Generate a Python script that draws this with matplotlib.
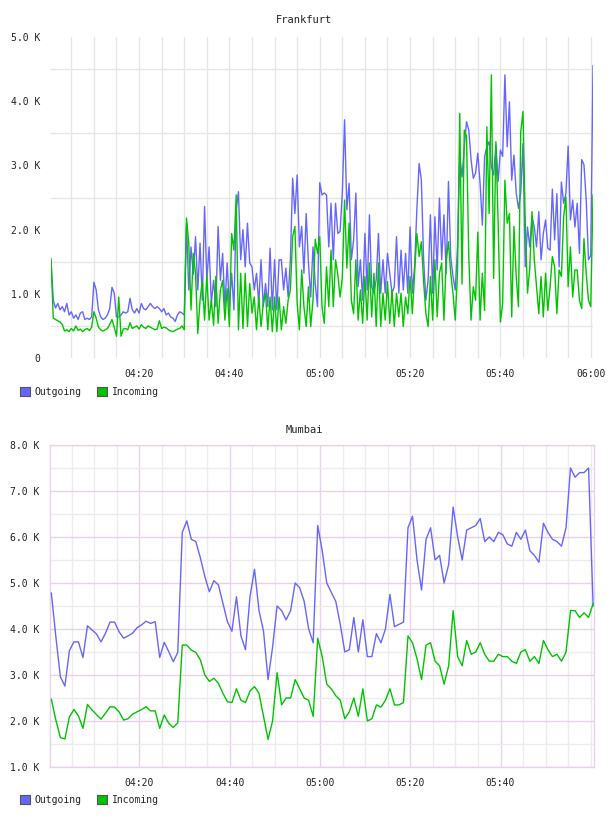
import matplotlib
matplotlib.use("Agg")
import matplotlib.pyplot as plt
from matplotlib.patches import Patch
from matplotlib.ticker import FixedLocator
import numpy as np

plt.rcParams['font.family'] = ['DejaVu Sans Mono', 'DejaVu Sans']
plt.rcParams['font.size'] = 7

# ---------------- data (values in K) ----------------
start_min = 0.5          # first sample: minutes after 04:00
frankfurt_step = 0.5     # minutes between samples
mumbai_step = 1.0

frankfurt_outgoing = [
    1.54, 0.90, 0.78, 0.85, 0.75, 0.80, 0.72, 0.85, 0.67, 0.72,
    0.62, 0.67, 0.60, 0.70, 0.72, 0.60, 0.62, 0.60, 0.64, 1.18,
    1.06, 0.75, 0.64, 0.60, 0.62, 0.67, 0.77, 1.10, 1.01, 0.64,
    0.64, 0.67, 0.72, 0.70, 0.72, 0.93, 0.75, 0.70, 0.77, 0.70,
    0.85, 0.77, 0.75, 0.80, 0.85, 0.80, 0.77, 0.80, 0.77, 0.72,
    0.77, 0.67, 0.70, 0.64, 0.62, 0.57, 0.67, 0.72, 0.70, 0.67,
    2.10, 1.06, 1.73, 1.30, 1.89, 1.06, 1.79, 0.90, 2.36, 1.21,
    1.73, 0.85, 1.21, 0.80, 2.05, 1.21, 1.63, 0.80, 1.48, 0.80,
    1.32, 0.75, 2.30, 2.59, 1.53, 2.00, 1.42, 2.10, 1.48, 1.42,
    1.06, 1.32, 0.85, 1.53, 0.80, 1.16, 0.80, 1.71, 0.75, 1.53,
    0.75, 1.53, 1.53, 1.06, 1.40, 0.95, 1.53, 2.80, 2.25, 2.85,
    1.73, 2.05, 1.32, 2.25, 1.48, 0.95, 1.73, 1.16, 0.80, 2.73,
    2.54, 2.57, 2.54, 1.73, 2.41, 1.53, 2.41, 1.94, 1.97, 2.57,
    3.71, 2.31, 2.72, 1.53, 1.84, 2.57, 1.11, 1.53, 0.90, 1.94,
    1.06, 2.23, 1.11, 1.01, 1.22, 1.94, 1.01, 1.53, 1.01, 1.63,
    1.32, 1.01, 1.11, 1.89, 1.01, 1.68, 1.06, 1.63, 1.01, 2.04,
    1.01, 1.42, 2.31, 3.03, 2.77, 1.53, 0.90, 1.22, 2.23, 1.01,
    2.20, 1.37, 2.49, 1.53, 2.23, 1.32, 2.75, 1.58, 1.27, 1.06,
    1.73, 3.15, 2.82, 3.29, 3.68, 3.55, 3.09, 2.80, 2.88, 3.19,
    2.72, 2.07, 3.14, 3.29, 3.37, 2.98, 2.85, 3.32, 2.75, 3.24,
    3.14, 4.41, 3.29, 3.99, 2.77, 3.16, 2.57, 2.33, 2.57, 3.34,
    1.42, 2.04, 1.73, 2.20, 2.04, 1.73, 2.28, 1.53, 1.94, 2.15,
    1.71, 1.68, 2.63, 1.84, 2.56, 1.42, 2.74, 2.41, 2.56, 3.30,
    2.15, 2.46, 2.04, 2.41, 1.63, 3.09, 3.01, 2.46, 1.53, 1.60,
    4.55,
]

frankfurt_incoming = [
    1.54, 0.62, 0.60, 0.58, 0.56, 0.52, 0.42, 0.44, 0.41, 0.46,
    0.42, 0.50, 0.43, 0.45, 0.41, 0.44, 0.46, 0.43, 0.48, 0.72,
    0.62, 0.48, 0.44, 0.42, 0.44, 0.46, 0.52, 0.60, 0.48, 0.34,
    0.95, 0.34, 0.45, 0.46, 0.44, 0.55, 0.46, 0.48, 0.50, 0.45,
    0.52, 0.48, 0.46, 0.50, 0.48, 0.46, 0.44, 0.45, 0.58, 0.46,
    0.48, 0.47, 0.44, 0.42, 0.41, 0.43, 0.45, 0.46, 0.50, 0.44,
    2.18, 1.79, 0.75, 1.63, 1.32, 0.38, 0.90, 1.21, 0.59, 1.29,
    0.59, 0.90, 0.51, 1.27, 0.54, 1.06, 1.21, 0.59, 1.08, 0.49,
    1.94, 1.68, 2.54, 0.44, 1.32, 0.46, 1.32, 0.49, 1.16, 0.70,
    0.95, 0.44, 0.95, 0.49, 0.85, 1.01, 0.44, 0.95, 0.41, 0.95,
    0.41, 0.95, 0.44, 0.80, 0.54, 0.90, 1.06, 1.89, 2.05, 0.85,
    0.44, 1.37, 0.80, 0.49, 1.11, 0.49, 0.90, 1.85, 1.63, 1.89,
    0.80, 0.54, 1.42, 0.80, 1.68, 0.80, 1.53, 1.30, 0.95, 1.25,
    2.46, 1.40, 2.10, 0.90, 0.69, 1.53, 0.59, 1.06, 0.54, 1.27,
    0.59, 1.48, 0.64, 1.32, 0.49, 1.48, 0.49, 1.01, 0.59, 1.19,
    0.54, 1.06, 0.49, 1.01, 0.64, 1.01, 0.49, 0.95, 0.69, 1.27,
    0.69, 1.32, 1.94, 1.58, 1.81, 1.19, 0.69, 0.49, 1.27, 0.59,
    1.53, 0.64, 1.32, 1.48, 0.59, 1.53, 1.81, 1.32, 1.01, 0.59,
    1.32, 3.81, 1.15, 3.55, 3.45, 1.58, 0.59, 1.11, 0.90, 1.96,
    0.59, 1.32, 0.74, 3.60, 2.25, 4.41, 1.24, 3.37, 2.10, 0.56,
    0.85, 2.77, 2.10, 2.25, 0.64, 2.05, 1.27, 0.80, 3.52, 3.84,
    2.10, 1.01, 1.40, 2.28, 1.53, 1.11, 0.69, 1.27, 0.64, 1.32,
    0.74, 1.11, 1.58, 1.42, 0.69, 1.37, 1.27, 2.20, 2.51, 1.11,
    1.73, 0.95, 1.37, 1.37, 0.90, 0.77, 1.86, 1.32, 0.90, 0.80,
    2.54,
]

mumbai_outgoing = [
    4.78, 3.83, 2.96, 2.76, 3.53, 3.72, 3.72, 3.38, 4.07, 3.98,
    3.89, 3.72, 3.91, 4.15, 4.15, 3.94, 3.80, 3.85, 3.91, 4.03,
    4.09, 4.17, 4.12, 4.16, 3.38, 3.71, 3.51, 3.29, 3.49, 6.10,
    6.35, 5.95, 5.90, 5.55, 5.14, 4.81, 5.05, 4.96, 4.56, 4.16,
    3.95, 4.70, 3.85, 3.55, 4.70, 5.30, 4.40, 3.95, 2.90, 3.60,
    4.50, 4.40, 4.20, 4.40, 5.00, 4.90, 4.60, 4.00, 3.70, 6.25,
    5.70, 5.00, 4.80, 4.60, 4.10, 3.50, 3.55, 4.25, 3.50, 4.20,
    3.40, 3.40, 3.90, 3.70, 4.00, 4.75, 4.05, 4.10, 4.15, 6.20,
    6.45, 5.50, 4.85, 5.95, 6.20, 5.50, 5.60, 5.00, 5.40, 6.65,
    6.00, 5.50, 6.15, 6.20, 6.25, 6.40, 5.90, 6.00, 5.90, 6.10,
    6.05, 5.85, 5.80, 6.10, 5.95, 6.15, 5.70, 5.60, 5.45, 6.30,
    6.10, 5.95, 5.90, 5.80, 6.20, 7.50, 7.30, 7.40, 7.40, 7.50,
    4.50,
]

mumbai_incoming = [
    2.47, 2.02, 1.64, 1.61, 2.09, 2.25, 2.11, 1.84, 2.36, 2.24,
    2.14, 2.04, 2.17, 2.31, 2.30, 2.20, 2.02, 2.05, 2.15, 2.20,
    2.25, 2.31, 2.22, 2.22, 1.84, 2.13, 1.95, 1.86, 1.96, 3.65,
    3.65, 3.54, 3.49, 3.33, 3.00, 2.86, 2.93, 2.82, 2.60, 2.42,
    2.40, 2.70, 2.45, 2.40, 2.65, 2.75, 2.60, 2.10, 1.60, 2.00,
    3.05, 2.35, 2.50, 2.50, 2.90, 2.70, 2.50, 2.45, 2.10, 3.80,
    3.40, 2.80, 2.70, 2.55, 2.45, 2.05, 2.20, 2.50, 2.10, 2.70,
    2.00, 2.05, 2.35, 2.30, 2.45, 2.70, 2.35, 2.35, 2.40, 3.85,
    3.70, 3.35, 2.90, 3.65, 3.70, 3.30, 3.20, 2.80, 3.20, 4.40,
    3.40, 3.20, 3.75, 3.45, 3.50, 3.70, 3.45, 3.30, 3.30, 3.45,
    3.40, 3.40, 3.30, 3.25, 3.50, 3.55, 3.30, 3.40, 3.25, 3.75,
    3.55, 3.40, 3.45, 3.30, 3.50, 4.40, 4.40, 4.25, 4.35, 4.25,
    4.55,
]

frankfurt_title = "Frankfurt"
mumbai_title = "Mumbai"
series_names = ["Outgoing", "Incoming"]
frankfurt_xtick_minutes = [20, 40, 60, 80, 100, 120]
frankfurt_xtick_labels = ["04:20", "04:40", "05:00", "05:20", "05:40", "06:00"]
mumbai_xtick_minutes = [20, 40, 60, 80, 100]
mumbai_xtick_labels = ["04:20", "04:40", "05:00", "05:20", "05:40"]
frankfurt_yticks = [0, 1, 2, 3, 4, 5]
frankfurt_ytick_labels = ["0", "1.0 K", "2.0 K", "3.0 K", "4.0 K", "5.0 K"]
mumbai_yticks = [1, 2, 3, 4, 5, 6, 7, 8]
mumbai_ytick_labels = ["1.0 K", "2.0 K", "3.0 K", "4.0 K", "5.0 K", "6.0 K", "7.0 K", "8.0 K"]

# ---------------- styling ----------------
BLUE = "#6666ff"
GREEN = "#00c400"
GRID = "#e6e6e6"
PINK = "#e6d2ea"
TEXT = "#222222"

W, H = 608, 816
fig = plt.figure(figsize=(W / 100, H / 100), dpi=100)


def px_axes(left, top, right, bottom):
    return fig.add_axes([left / W, 1 - bottom / H, (right - left) / W, (bottom - top) / H])


def times(n, step):
    return start_min + step * np.arange(n)


# ---- Frankfurt ----
ax1 = px_axes(51, 37, 593, 358)
t1 = times(len(frankfurt_outgoing), frankfurt_step)
ax1.plot(t1, frankfurt_outgoing, color=BLUE, lw=1.0, zorder=3)
ax1.plot(t1, frankfurt_incoming, color=GREEN, lw=1.0, zorder=4)
ax1.set_xlim(t1[0], t1[-1])
ax1.set_ylim(0, 5)
ax1.set_xticks(frankfurt_xtick_minutes)
ax1.set_xticklabels(frankfurt_xtick_labels)
ax1.xaxis.set_minor_locator(FixedLocator(np.arange(5, 121, 5)))
ax1.set_yticks(frankfurt_yticks)
ax1.set_yticklabels(frankfurt_ytick_labels)
ax1.yaxis.set_minor_locator(FixedLocator(np.arange(0.5, 5, 1.0)))
ax1.grid(True, which='both', axis='x', color=GRID, lw=1.0)
ax1.grid(True, which='minor', axis='y', color=GRID, lw=1.0)
ax1.grid(False, which='major', axis='y')
for s in ax1.spines.values():
    s.set_visible(False)
ax1.tick_params(which='both', length=0, colors=TEXT, labelsize=7)
ax1.tick_params(axis='y', pad=8)
ax1.tick_params(axis='x', pad=8)
ax1.set_axisbelow(True)
fig.text(0.5, 1 - 20 / H, frankfurt_title, ha='center', va='center', fontsize=7.5, color=TEXT)

# ---- Mumbai ----
ax2 = px_axes(50, 445, 594, 767)
t2 = times(len(mumbai_outgoing), mumbai_step)
ax2.plot(t2, mumbai_outgoing, color=BLUE, lw=1.0, zorder=3)
ax2.plot(t2, mumbai_incoming, color=GREEN, lw=1.0, zorder=4)
ax2.set_xlim(t2[0] - 0.3, t2[-1] + 0.2)
ax2.set_ylim(1, 8)
ax2.set_xticks(mumbai_xtick_minutes)
ax2.set_xticklabels(mumbai_xtick_labels)
ax2.xaxis.set_minor_locator(FixedLocator(np.arange(5, 121, 5)))
ax2.set_yticks(mumbai_yticks)
ax2.set_yticklabels(mumbai_ytick_labels)
ax2.yaxis.set_minor_locator(FixedLocator(np.arange(1.5, 8, 1.0)))
ax2.grid(True, which='major', color=PINK, lw=1.0)
ax2.grid(True, which='minor', color="#ececec", lw=1.0)
for s in ax2.spines.values():
    s.set_color(PINK)
    s.set_linewidth(1.0)
ax2.tick_params(which='both', length=0, colors=TEXT, labelsize=7)
ax2.tick_params(axis='y', pad=8)
ax2.tick_params(axis='x', pad=8)
ax2.set_axisbelow(True)
fig.text(0.5, 1 - 430 / H, mumbai_title, ha='center', va='center', fontsize=7.5, color=TEXT)

# ---- legends ----
def add_legend(ycenter):
    handles = [Patch(facecolor=BLUE, edgecolor="#555555", lw=0.8, label=series_names[0]),
               Patch(facecolor=GREEN, edgecolor="#555555", lw=0.8, label=series_names[1])]
    fig.legend(handles=handles, loc='center left', bbox_to_anchor=(20 / W, 1 - ycenter / H),
               ncol=2, frameon=False, handlelength=1.0, handleheight=1.0,
               handletextpad=0.5, columnspacing=1.6, borderpad=0, borderaxespad=0,
               fontsize=7, labelcolor=TEXT)

add_legend(392)
add_legend(800)

fig.savefig("out.png", dpi=100)
